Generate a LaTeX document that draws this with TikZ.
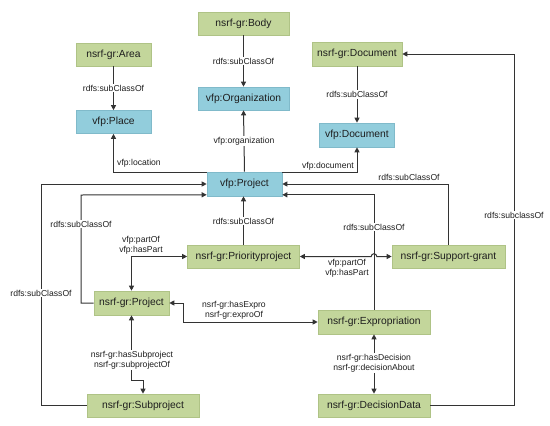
\documentclass[tikz,border=0pt]{standalone}
\usepackage{fontspec}
\setmainfont{Liberation Sans}
\usetikzlibrary{arrows.meta}
\definecolor{gfill}{HTML}{C3D69B}
\definecolor{gdraw}{HTML}{AFC386}
\definecolor{bfill}{HTML}{92CDDC}
\definecolor{bdraw}{HTML}{80BACA}
\definecolor{lc}{HTML}{333333}
\definecolor{tc}{HTML}{1E1E1E}
\tikzset{
  gbox/.style={draw=gdraw,fill=gfill,line width=0.6pt,minimum height=23pt,inner sep=0pt,text=tc,font=\fontsize{10.3}{12}\selectfont},
  bbox/.style={draw=bdraw,fill=bfill,line width=0.6pt,minimum height=23pt,inner sep=0pt,text=tc,font=\fontsize{10.3}{12}\selectfont},
  conn/.style={draw=lc,line width=1pt},
  arr/.style={conn,-{Triangle[length=5pt,width=5pt]}},
  barr/.style={conn,{Triangle[length=5pt,width=5pt]}-{Triangle[length=5pt,width=5pt]}},
  lbl/.style={font=\fontsize{8.6}{10}\selectfont,text=tc,inner sep=1pt,align=center},
  wlbl/.style={lbl,fill=white}
}
\begin{document}
\begin{tikzpicture}[x=1pt,y=-1pt]
\useasboundingbox (0,0) rectangle (550,426);
% nodes
\node[gbox,minimum width=75pt] (area) at (113.5,54.5) {nsrf-gr:Area};
\node[bbox,minimum width=75pt] (place) at (113.5,122) {vfp:Place};
\node[gbox,minimum width=91pt] (body) at (243.5,23.5) {nsrf-gr:Body};
\node[bbox,minimum width=91pt] (org) at (243.5,98.5) {vfp:Organization};
\node[bbox,minimum width=75pt,minimum height=24pt] (vproj) at (244.5,184) {vfp:Project};
\node[gbox,minimum width=90pt,minimum height=24pt] (ndoc) at (357,54) {nsrf-gr:Document};
\node[bbox,minimum width=75pt,minimum height=24pt] (vdoc) at (357,135) {vfp:Document};
\node[gbox,minimum width=112pt] (prio) at (243.5,256.5) {nsrf-gr:Priorityproject};
\node[gbox,minimum width=113pt] (supp) at (448.5,256.5) {nsrf-gr:Support-grant};
\node[gbox,minimum width=75pt,minimum height=24pt] (nproj) at (131.5,303) {nsrf-gr:Project};
\node[gbox,minimum width=112pt,minimum height=24pt] (expr) at (374,322) {nsrf-gr:Expropriation};
\node[gbox,minimum width=112pt] (subp) at (143,405.5) {nsrf-gr:Subproject};
\node[gbox,minimum width=112pt] (dec) at (374,405.5) {nsrf-gr:DecisionData};
% helper coordinates
\coordinate (c1) at (41,184);
\coordinate (c2) at (81,195);
\coordinate (c3) at (183,303);
\coordinate (c4) at (514,54);
\coordinate (vpsw) at ([yshift=1.5pt]vproj.south west);
\coordinate (vpse) at ([yshift=1.5pt]vproj.south east);
\coordinate (vpnw) at ([yshift=-0.6pt]vproj.north west);
\coordinate (vpne) at ([yshift=-0.6pt]vproj.north east);
% subclass edges
\draw[arr] (area.south) -- (place.north) node[wlbl,pos=0.5] {rdfs:subClassOf};
\draw[arr] (body.south) -- (org.north) node[wlbl,pos=0.5] {rdfs:subClassOf};
\draw[arr] (ndoc.south) -- (vdoc.north) node[wlbl,pos=0.5] {rdfs:subClassOf};
\draw[arr] (vproj.north) -- (org.south) node[wlbl,pos=0.5] {vfp:organization};
\draw[arr] (vpnw) -| (place.south);
\node[lbl] (loclbl) at (139,163) {vfp:location};
\draw[arr] (vpne) -| (vdoc.south);
\node[lbl] (doclbl) at (328,166) {vfp:document};
\draw[arr] (subp.west) -| (c1) -- (vproj.west);
\node[wlbl] (l1) at (41,293) {rdfs:subClassOf};
\draw[arr] (nproj.west) -| (c2) -- (vpsw);
\node[wlbl] (l2) at (81,224) {rdfs:subClassOf};
\draw[arr] (supp.north) |- (vproj.east);
\node[lbl] (l3) at (409,177) {rdfs:subClassOf};
\draw[arr] (expr.north) |- (vpse);
\node[wlbl] (l4) at (374,227) {rdfs:subClassOf};
\draw[arr] (prio.north) -- (prio.north |- vproj.south);
\node[wlbl] (l5) at (243.5,221) {rdfs:subClassOf};
% part-of relations
\draw[barr] (prio.west) -| (nproj.north);
\node[lbl] (l6) at (141,245) {vfp:partOf\\vfp:hasPart};
\draw[barr] (prio.east) -- (371.2,256.5) arc[start angle=180,end angle=0,radius=2.8pt] -- (supp.west);
\node[lbl] (l7) at (347,268) {vfp:partOf\\vfp:hasPart};
% expro
\draw[barr] (nproj.east) -- (c3) |- (expr.west);
\node[lbl] (l8) at (234,310) {nsrf-gr:hasExpro\\nsrf-gr:exproOf};
% subproject
\draw[barr] (nproj.south) -- ++(0,65) -| (subp.north);
\node[wlbl] (l9) at (132,360) {nsrf-gr:hasSubproject\\nsrf-gr:subprojectOf};
% decision
\draw[barr] (expr.south) -- (dec.north);
\node[wlbl] (l10) at (374,363) {nsrf-gr:hasDecision\\nsrf-gr:decisionAbout};
% decision data to document
\draw[arr] (dec.east) -| (c4) -- (ndoc.east);
\node[wlbl] (l11) at (514,215) {rdfs:subclassOf};
\end{tikzpicture}
\end{document}
